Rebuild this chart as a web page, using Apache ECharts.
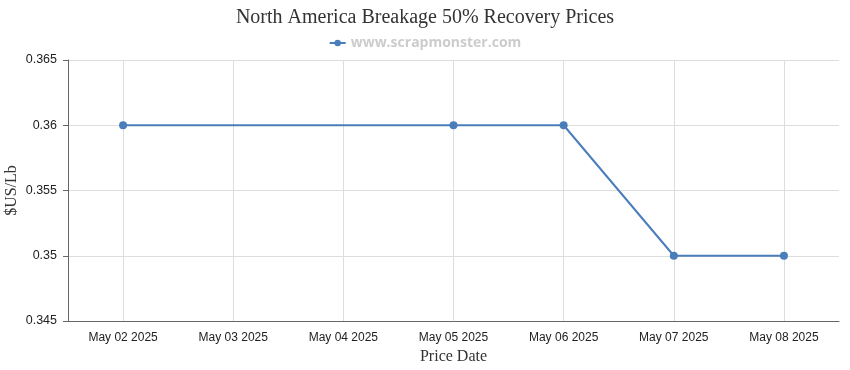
<!DOCTYPE html>
<html><head><meta charset="utf-8">
<script src="https://cdn.jsdelivr.net/npm/echarts@6/dist/echarts.min.js"></script>
<style>html,body{margin:0;padding:0;background:#fff}#c{width:850px;height:370px}</style>
</head><body><div id="c"></div>
<script>
const categories = ['May 02 2025','May 03 2025','May 04 2025','May 05 2025','May 06 2025','May 07 2025','May 08 2025'];
const prices = [0.36, null, null, 0.36, 0.36, 0.35, 0.35];
const seriesName = 'www.scrapmonster.com';
const chart = echarts.init(document.getElementById('c'));
chart.setOption({
  animation: false,
  title: {text: 'North America Breakage 50% Recovery Prices', left: 'center', top: 3,
    textStyle: {fontFamily: 'Liberation Serif', fontWeight: 'normal', fontSize: 20, color: '#333'}},
  legend: {top: 31, left: 'center', itemWidth: 16, itemHeight: 8,
    textStyle: {color: '#ccc', fontWeight: 'bold', fontSize: 14, fontFamily: 'Open Sans'}},
  grid: {left: 68, right: 11, top: 60, bottom: 49, outerBoundsMode: 'none', containLabel: false},
  xAxis: {type: 'category', data: categories, boundaryGap: true,
    name: 'Price Date', nameLocation: 'middle', nameGap: 27,
    nameTextStyle: {fontFamily: 'Liberation Serif', fontSize: 16, color: '#333'},
    axisLine: {lineStyle: {color: '#666'}},
    axisTick: {alignWithLabel: true, length: 5, lineStyle: {color: '#666'}},
    axisLabel: {color: '#222', fontSize: 12, margin: 11},
    splitLine: {show: true, alignWithLabel: true, lineStyle: {color: '#ddd'}}},
  yAxis: {type: 'value', min: 0.345, max: 0.365, interval: 0.005,
    name: '$US/Lb', nameLocation: 'middle', nameGap: 48, nameMoveOverlap: false,
    nameTextStyle: {fontFamily: 'Liberation Serif', fontSize: 16, color: '#333'},
    axisLine: {show: true, lineStyle: {color: '#666'}},
    axisTick: {show: true, length: 5, lineStyle: {color: '#666'}},
    axisLabel: {color: '#222', fontSize: 12.5, margin: 11},
    splitLine: {lineStyle: {color: '#ddd'}}},
  series: [{name: seriesName, type: 'line', data: prices, connectNulls: true,
    symbol: 'circle', symbolSize: 8,
    itemStyle: {color: '#4a7ebb'}, lineStyle: {color: '#4a7ebb', width: 2}}]
});
</script></body></html>
